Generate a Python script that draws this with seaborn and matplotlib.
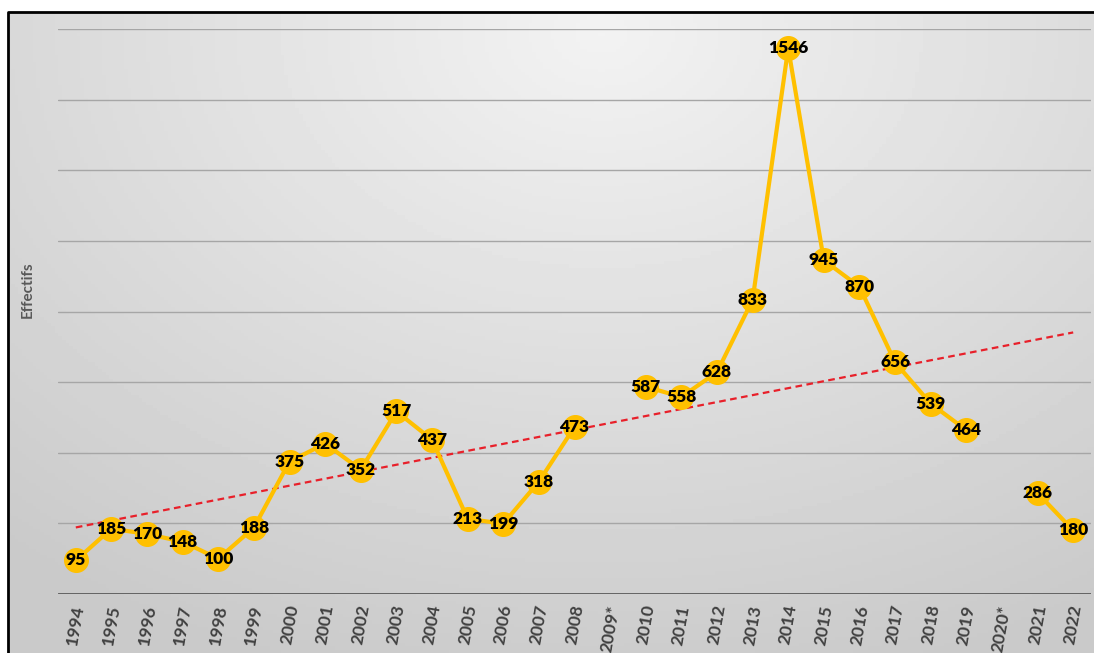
import numpy as np
import pandas as pd
import matplotlib.pyplot as plt
import seaborn as sns

# Data: yearly counts (None = no data for that year)
years = ["1994", "1995", "1996", "1997", "1998", "1999", "2000", "2001", "2002", "2003",
         "2004", "2005", "2006", "2007", "2008", "2009*", "2010", "2011", "2012", "2013",
         "2014", "2015", "2016", "2017", "2018", "2019", "2020*", "2021", "2022"]
effectifs = [95, 185, 170, 148, 100, 188, 375, 426, 352, 517,
             437, 213, 199, 318, 473, None, 587, 558, 628, 833,
             1546, 945, 870, 656, 539, 464, None, 286, 180]

df = pd.DataFrame({"annee": years, "effectifs": effectifs})
df["effectifs"] = df["effectifs"].astype(float)
df["pos"] = np.arange(len(df))

sns.set_theme(style="white")
plt.rcParams["font.family"] = ["Lato", "DejaVu Sans"]

W, H = 1094, 653
fig = plt.figure(figsize=(W / 100, H / 100), dpi=100)

# Background gradient (lighter at the top centre)
bg = fig.add_axes([0, 0, 1, 1], zorder=-10)
yy, xx = np.mgrid[0:1:200j, 0:1:300j]
r = np.sqrt(((xx - 0.55) / 0.9) ** 2 + ((yy - 0.05) / 1.1) ** 2)
grad = np.clip(0.95 - 0.17 * r, 0.79, 0.95)
bg.imshow(grad, cmap="gray", vmin=0, vmax=1, aspect="auto", extent=[0, 1, 1, 0])
bg.set_xlim(0, 1)
bg.set_ylim(1, 0)
bg.axis("off")
# white margin + black frame
bg.fill_between([0, 1], 0, 12 / H, color="white", zorder=2)
bg.fill_betweenx([0, 1], 0, 8 / W, color="white", zorder=2)
bg.plot([8 / W, 8 / W, 1.0], [1.0, 12 / H, 12 / H], color="black", lw=2, zorder=3)

ax = fig.add_axes([58 / W, 1 - 594 / H, (1091 - 58) / W, (594 - 29) / H])
ax.patch.set_alpha(0)

# Gridlines
for v in range(200, 1601, 200):
    ax.axhline(v, color="#a6a6a6", lw=1, zorder=0)
ax.axhline(0, color="#595959", lw=2, zorder=1)

# Trend line (linear fit on available points)
valid = df.dropna()
coef = np.polyfit(valid["pos"], valid["effectifs"], 1)
trend = pd.DataFrame({"pos": [0, len(df) - 1]})
trend["val"] = np.polyval(coef, trend["pos"])
sns.lineplot(data=trend, x="pos", y="val", ax=ax, color="#e8202a", lw=1.6,
             linestyle=(0, (3, 2)), zorder=2)

# Main line with markers (gaps where no data)
ax.plot(df["pos"], df["effectifs"], color="#FFC000", lw=3, marker="o",
        markersize=17, markerfacecolor="#FFC000", markeredgecolor="#FFC000",
        zorder=3, clip_on=False)

for p, v in zip(df["pos"], df["effectifs"]):
    if not np.isnan(v):
        ax.text(p, v, f"{int(v)}", ha="center", va="center", fontsize=12.5,
                fontweight="heavy", color="black", zorder=4)

ax.set_xlim(-0.5, len(df) - 0.5)
ax.set_ylim(0, 1600)
ax.set_yticks([])
ax.set_xticks(df["pos"])
ax.set_xticklabels(df["annee"], rotation=80, fontsize=12.5, fontweight="bold",
                   color="#404040")
ax.tick_params(axis="x", length=0, pad=7)
for s in ax.spines.values():
    s.set_visible(False)
ax.set_xlabel("")
ax.set_ylabel("")
fig.text(28 / W, 1 - 290 / H, "Effectifs", rotation=90, ha="center", va="center",
         fontsize=11, fontweight="bold", color="#595959")

fig.savefig("out.png", dpi=100)
